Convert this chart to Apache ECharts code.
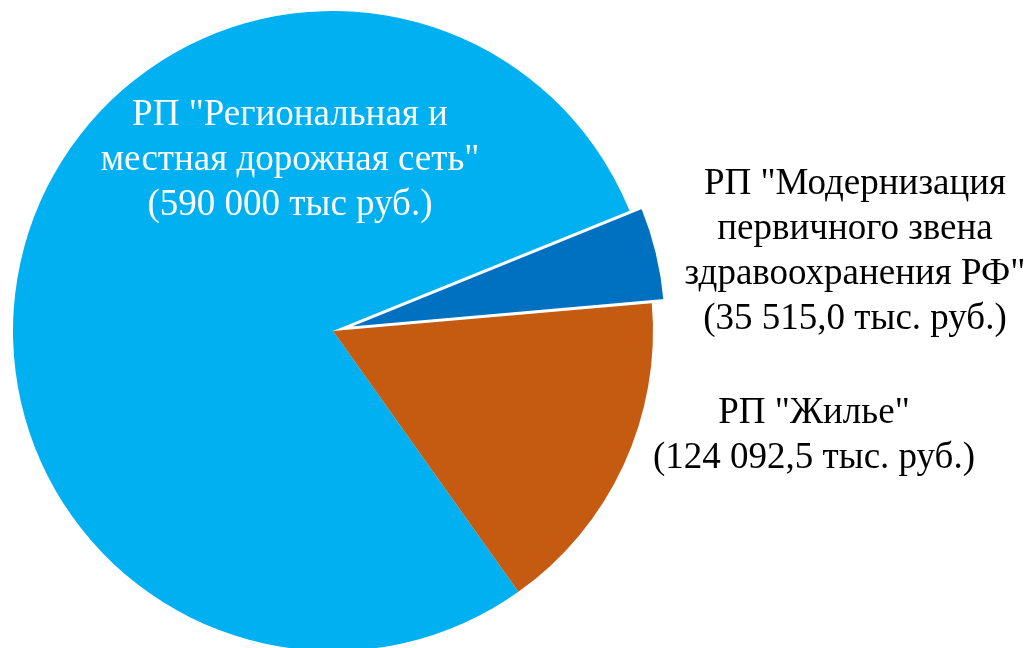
<!DOCTYPE html>
<html>
<head>
<meta charset="utf-8">
<script src="https://cdn.jsdelivr.net/npm/echarts@6/dist/echarts.min.js"></script>
<style>
html, body { margin: 0; padding: 0; background: #fff; }
#chart { width: 1027px; height: 648px; }
</style>
</head>
<body>
<div id="chart"></div>
<script>
// slice names and values (тыс. руб.)
var names = ['РП "Региональная и местная дорожная сеть"',
             'РП "Модернизация первичного звена здравоохранения РФ"',
             'РП "Жилье"'];
var values = [590000, 35515, 124092.5];
var labels = ['РП "Региональная и\nместная дорожная сеть"\n(590 000 тыс руб.)',
              'РП "Модернизация\nпервичного звена\nздравоохранения РФ"\n(35 515,0 тыс. руб.)',
              'РП "Жилье"\n(124 092,5 тыс. руб.)'];
var colors = ['#00B0F0', '#0070C0', '#C55A11'];
var labelColors = ['#ffffff', '#000000', '#000000'];
var labelPos = [[290, 160], [855, 252], [814, 436]];

var chart = document.getElementById('chart');
var myChart = echarts.init(chart);

var data = [];
for (var i = 0; i < values.length; i++) {
    data.push({
        name: names[i],
        value: values[i],
        selected: i == 1,
        itemStyle: {
            color: colors[i],
            borderColor: '#ffffff',
            borderWidth: i == 1 ? 2 : 0
        }
    });
}

// labels as plain text elements (selected slice ignores labelLayout)
var texts = [];
for (var j = 0; j < labels.length; j++) {
    texts.push({
        type: 'text',
        x: labelPos[j][0],
        y: labelPos[j][1],
        z: 10,
        style: {
            text: labels[j],
            fill: labelColors[j],
            fontFamily: '"Liberation Serif", "Times New Roman", serif',
            fontSize: 37,
            lineHeight: 45,
            align: 'center',
            verticalAlign: 'middle'
        }
    });
}

var option = {
    animation: false,
    graphic: texts,
    series: [
        {
            type: 'pie',
            center: [333, 331],
            radius: 320,
            startAngle: 305.4,
            clockwise: true,
            selectedMode: 'single',
            selectedOffset: 13,
            emphasis: { disabled: true },
            label: { show: false },
            labelLine: { show: false },
            data: data
        }
    ]
};

myChart.setOption(option);
</script>
</body>
</html>
